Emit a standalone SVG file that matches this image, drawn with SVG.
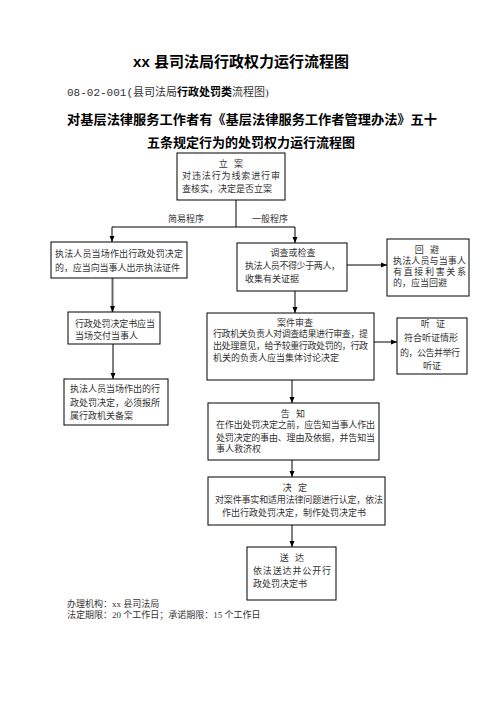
<svg xmlns="http://www.w3.org/2000/svg" width="496" height="702" viewBox="0 0 496 702">
<style>
.box{fill:#fff;stroke:#000;stroke-width:1}
.t{font-family:"Liberation Serif","Noto Sans CJK SC",serif;font-size:9px;fill:#333}
.c{text-anchor:middle}
.ws{word-spacing:4px}
.title{font-family:"Liberation Sans","Noto Sans CJK SC",sans-serif;font-weight:bold;fill:#000}
.ln{stroke:#000;stroke-width:1;fill:none}
</style>
<defs>
<marker id="ah" markerUnits="userSpaceOnUse" markerWidth="6" markerHeight="6" refX="6" refY="3" orient="auto">
<path d="M0,0.5 L6,3 L0,5.5 z" fill="#000"/>
</marker>
</defs>
<rect width="496" height="702" fill="#fff"/>
<g id="header">
<text class="title c" x="241" y="67" font-size="15">xx 县司法局行政权力运行流程图</text>
<text x="67" y="96" font-size="11" fill="#333"><tspan font-family="Liberation Mono,monospace">08-02-001(</tspan><tspan font-family="Liberation Serif,Noto Sans CJK SC,serif">县司法局</tspan><tspan font-family="Liberation Sans,Noto Sans CJK SC,sans-serif" font-weight="bold" fill="#000">行政处罚类</tspan><tspan font-family="Liberation Serif,Noto Sans CJK SC,serif">流程图)</tspan></text>
<text class="title" x="67" y="124" font-size="13" textLength="370" lengthAdjust="spacingAndGlyphs">对基层法律服务工作者有《基层法律服务工作者管理办法》五十</text>
<text class="title c" x="251" y="147" font-size="13">五条规定行为的处罚权力运行流程图</text>
</g>
<g id="connectors">
<line class="ln" x1="236" y1="200" x2="236" y2="227"/>
<line class="ln" x1="112" y1="227" x2="295" y2="227"/>
<line class="ln" x1="112" y1="227" x2="112" y2="242" marker-end="url(#ah)"/>
<line class="ln" x1="295" y1="227" x2="295" y2="243" marker-end="url(#ah)"/>
<line x1="112.5" y1="278" x2="112.5" y2="312" stroke="#666" stroke-width="2" marker-end="url(#ah)"/>
<line class="ln" x1="113" y1="344" x2="113" y2="379" stroke-width="1.3" marker-end="url(#ah)"/>
<line class="ln" x1="347" y1="265" x2="387" y2="265" marker-end="url(#ah)"/>
<line class="ln" x1="295" y1="291" x2="295" y2="313" marker-end="url(#ah)"/>
<line class="ln" x1="374" y1="342" x2="397" y2="342" marker-end="url(#ah)"/>
<line class="ln" x1="292" y1="380" x2="292" y2="403" marker-end="url(#ah)"/>
<line class="ln" x1="292" y1="460" x2="292" y2="477" marker-end="url(#ah)"/>
<line class="ln" x1="292" y1="525" x2="292" y2="547" marker-end="url(#ah)"/>
<text class="t" x="168" y="222">简易程序</text>
<text class="t" x="252" y="222">一般程序</text>
</g>
<g id="n-lian">
<rect class="box" x="177" y="153" width="108" height="47"/>
<text class="t c ws" x="231" y="166.5">立 案</text>
<text class="t" x="182" y="178.5" textLength="98">对违法行为线索进行审</text>
<text class="t" x="182" y="192">查核实，决定是否立案</text>
</g>
<g id="n-jianyi1">
<rect class="box" x="51" y="242" width="136" height="36"/>
<text class="t" x="55" y="256.5" textLength="128">执法人员当场作出行政处罚决定</text>
<text class="t" x="55" y="270.5" textLength="125">的，应当向当事人出示执法证件</text>
</g>
<g id="n-jianyi2">
<rect class="box" x="68" y="312" width="92" height="32"/>
<text class="t" x="75" y="326.5" textLength="80">行政处罚决定书应当</text>
<text class="t" x="75" y="338.5">当场交付当事人</text>
</g>
<g id="n-jianyi3">
<rect class="box" x="64" y="379" width="104" height="46"/>
<text class="t" x="70" y="391.5" textLength="90">执法人员当场作出的行</text>
<text class="t" x="70" y="405.5" textLength="90">政处罚决定，必须报所</text>
<text class="t" x="70" y="418.5">属行政机关备案</text>
</g>
<g id="n-diaocha">
<rect class="box" x="237" y="243" width="110" height="48"/>
<text class="t c" x="293" y="255.5">调查或检查</text>
<text class="t" x="245" y="268.5" textLength="95">执法人员不得少于两人，</text>
<text class="t" x="245" y="281.5">收集有关证据</text>
</g>
<g id="n-huibi">
<rect class="box" x="387" y="239" width="82" height="57"/>
<text class="t c ws" x="427" y="252.5">回 避</text>
<text class="t" x="393" y="263.5" textLength="73">执法人员与当事人</text>
<text class="t" x="393" y="274.5" textLength="73">有直接利害关系</text>
<text class="t" x="393" y="285.5">的，应当回避</text>
</g>
<g id="n-shencha">
<rect class="box" x="207" y="313" width="167" height="67"/>
<text class="t c" x="295" y="326">案件审查</text>
<text class="t" x="213" y="336.5" textLength="155">行政机关负责人对调查结果进行审查，提</text>
<text class="t" x="213" y="348.5" textLength="155">出处理意见，给予较重行政处罚的，行政</text>
<text class="t" x="213" y="360.5">机关的负责人应当集体讨论决定</text>
</g>
<g id="n-tingzheng">
<rect class="box" x="397" y="318" width="70" height="56"/>
<text class="t c ws" x="433" y="327">听 证</text>
<text class="t" x="404" y="340.5">符合听证情形</text>
<text class="t" x="400" y="355.5" textLength="60">的，公告并举行</text>
<text class="t c" x="432" y="368.5">听证</text>
</g>
<g id="n-gaozhi">
<rect class="box" x="208" y="403" width="171" height="57"/>
<text class="t c ws" x="293" y="416.5">告 知</text>
<text class="t" x="216" y="427.5" textLength="159">在作出处罚决定之前，应告知当事人作出</text>
<text class="t" x="216" y="440.5" textLength="159">处罚决定的事由、理由及依据，并告知当</text>
<text class="t" x="216" y="451.5">事人救济权</text>
</g>
<g id="n-jueding">
<rect class="box" x="208" y="477" width="177" height="48"/>
<text class="t c ws" x="295" y="490.5">决 定</text>
<text class="t" x="215" y="502.5" textLength="168">对案件事实和适用法律问题进行认定，依法</text>
<text class="t c" x="294" y="515.5">作出行政处罚决定，制作处罚决定书</text>
</g>
<g id="n-songda">
<rect class="box" x="247" y="547" width="89" height="53"/>
<text class="t c ws" x="292" y="560.5">送 达</text>
<text class="t" x="253" y="573.5" textLength="78">依法送达并公开行</text>
<text class="t" x="253" y="586.5">政处罚决定书</text>
</g>
<g id="footer">
<text class="t" x="67" y="606.5">办理机构：xx 县司法局</text>
<text class="t" x="67" y="617.5">法定期限：20 个工作日；承诺期限：15 个工作日</text>
</g>
</svg>
